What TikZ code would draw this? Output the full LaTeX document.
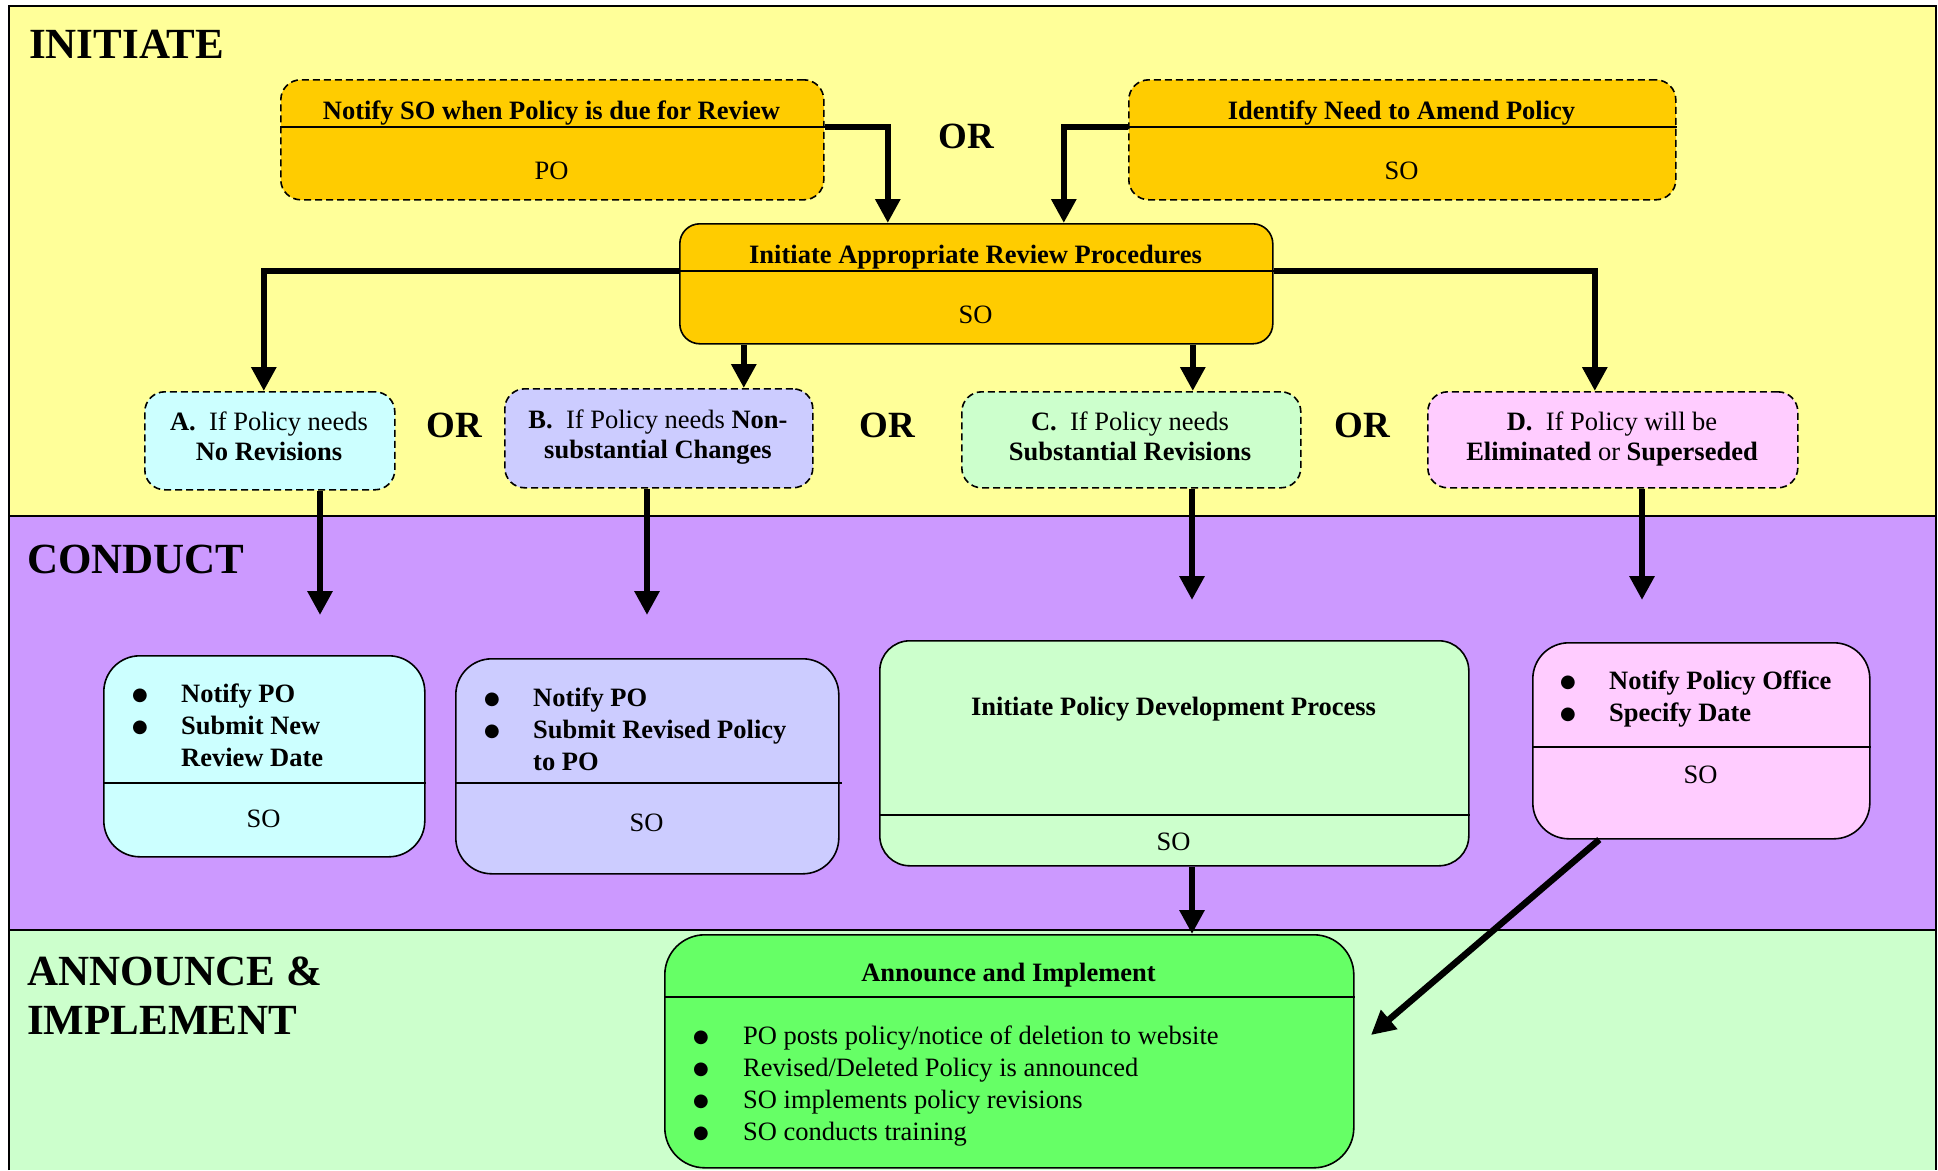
\documentclass[tikz,border=0pt]{standalone}
\usepackage{fontspec}
\setmainfont{Liberation Serif}
\newfontfamily\dejavu{DejaVu Sans}
\usetikzlibrary{arrows.meta}
\definecolor{laneY}{HTML}{FFFF99}
\definecolor{laneP}{HTML}{CC99FF}
\definecolor{laneG}{HTML}{CCFFCC}
\definecolor{boxO}{HTML}{FFCC00}
\definecolor{boxA}{HTML}{CCFFFF}
\definecolor{boxB}{HTML}{CCCCFF}
\definecolor{boxC}{HTML}{CCFFCC}
\definecolor{boxD}{HTML}{FFCCFF}
\definecolor{boxAnn}{HTML}{66FF66}
\newcommand\bodyf{\fontsize{26.5}{32.3}\selectfont}
\newcommand\headf{\fontsize{43}{49}\selectfont\bfseries}
\newcommand\orf{\fontsize{37}{42}\selectfont\bfseries}
\newcommand\bul{\raisebox{2pt}{\dejavu\fontsize{18}{0}\selectfont ●}}
\begin{document}
\begin{tikzpicture}[x=1pt,y=-1pt,
  box/.style={draw=black,line width=1.6pt,rounded corners=#1,anchor=north west,inner sep=0pt},
  box/.default=20pt,
  dbox/.style={box,dash pattern=on 7pt off 4pt},
  divl/.style={draw=black,line width=1.6pt},
  lanel/.style={draw=black,line width=2pt},
  conn/.style={line width=6.5pt,-{Triangle[length=24pt,width=24pt]}},
  txt/.style={anchor=base,font=\bodyf,inner sep=0pt},
  btxt/.style={anchor=base,font=\bodyf\bfseries,inner sep=0pt},
  lst/.style={anchor=base west,font=\bodyf\bfseries,inner sep=0pt},
  head/.style={anchor=base west,font=\headf,inner sep=0pt},
  ortxt/.style={anchor=base,font=\orf,inner sep=0pt}
]
\useasboundingbox (0,0) rectangle (1938,1170);
\fill[white] (0,0) rectangle (1938,1170);
% lanes
\fill[laneY] (9,6) rectangle (1936,516);
\fill[laneP] (9,516) rectangle (1936,930);
\fill[laneG] (9,930) rectangle (1936,1170);
\draw[lanel] (9,1170) -- (9,6) -- (1936,6) -- (1936,1170);
\draw[lanel] (9,516) -- (1936,516);
\draw[lanel] (9,930) -- (1936,930);
% headings
\node[head] (hInit) at (29,58) {INITIATE};
\node[head] (hCond) at (27,573) {CONDUCT};
\node[head] (hAnn1) at (27,985) {ANNOUNCE \&};
\node[head] (hAnn2) at (27,1034) {IMPLEMENT};
% top boxes
\node[dbox,fill=boxO,minimum width=543pt,minimum height=120pt] (notify) at (280,79) {};
\draw[divl] (notify.west |- 0,127) -- (notify.east |- 0,127);
\node[btxt] (notifyT) at (551.5,119) {Notify SO when Policy is due for Review};
\node[txt] (notifyR) at (551.5,179) {PO};
\node[dbox,fill=boxO,minimum width=547pt,minimum height=120pt] (identify) at (1128,79) {};
\draw[divl] (identify.west |- 0,127) -- (identify.east |- 0,127);
\node[btxt] (identifyT) at (1401.5,119) {Identify Need to Amend Policy};
\node[txt] (identifyR) at (1401.5,179) {SO};
\node[ortxt] (or0) at (966,148) {OR};
% initiate box
\node[box,fill=boxO,minimum width=593pt,minimum height=120pt] (init) at (679,223) {};
\draw[divl] (init.west |- 0,271) -- (init.east |- 0,271);
\node[btxt] (initT) at (975.5,263) {Initiate Appropriate Review Procedures};
\node[txt] (initR) at (975.5,323) {SO};
% decision boxes
\node[dbox,fill=boxA,minimum width=250pt,minimum height=98pt] (a) at (144,391) {};
\node[txt] (aT) at (269,430) {\begin{tabular}[t]{@{}c@{}}\textbf{A.}\ \ If Policy needs\\[-2pt] \textbf{No Revisions}\end{tabular}};
\node[dbox,fill=boxB,minimum width=308pt,minimum height=99pt] (b) at (504,388) {};
\node[txt] (bT) at (658,428) {\begin{tabular}[t]{@{}c@{}}\textbf{B.}\ \ If Policy needs \textbf{Non-}\\[-2pt] \textbf{substantial Changes}\end{tabular}};
\node[dbox,fill=boxC,minimum width=339pt,minimum height=96pt] (c) at (961,391) {};
\node[txt] (cT) at (1130,430) {\begin{tabular}[t]{@{}c@{}}\textbf{C.}\ \ If Policy needs\\[-2pt] \textbf{Substantial Revisions}\end{tabular}};
\node[dbox,fill=boxD,minimum width=370pt,minimum height=96pt] (d) at (1427,391) {};
\node[txt] (dT) at (1612,430) {\begin{tabular}[t]{@{}c@{}}\textbf{D.}\ \ If Policy will be\\[-2pt] \textbf{Eliminated} or \textbf{Superseded}\end{tabular}};
\node[ortxt] (or1) at (454,437) {OR};
\node[ortxt] (or2) at (887,437) {OR};
\node[ortxt] (or3) at (1362,437) {OR};
% conduct boxes
\node[box=36pt,fill=boxA,minimum width=321pt,minimum height=201pt] (a2) at (103,655) {};
\draw[divl] (a2.west |- 0,783) -- (a2.east |- 0,783);
\node[lst] (a2T) at (132,702) {\begin{tabular}[t]{@{}p{49pt}@{}l@{}}\bul&Notify PO\\\bul&Submit New\\&Review Date\end{tabular}};
\node[txt] (a2R) at (263.5,827) {SO};
\node[box=36pt,fill=boxB,minimum width=383pt,minimum height=215pt] (b2) at (455,658) {};
\draw[divl] (b2.west |- 0,783) -- ([xshift=2pt]b2.east |- 0,783);
\node[lst] (b2T) at (484,706) {\begin{tabular}[t]{@{}p{49pt}@{}l@{}}\bul&Notify PO\\\bul&Submit Revised Policy\\&to PO\end{tabular}};
\node[txt] (b2R) at (646.5,831) {SO};
\node[box=30pt,fill=boxC,minimum width=589pt,minimum height=225pt] (c2) at (879,640) {};
\draw[divl] (c2.west |- 0,815) -- (c2.east |- 0,815);
\node[btxt] (c2T) at (1173.5,715) {Initiate Policy Development Process};
\node[txt] (c2R) at (1173.5,850) {SO};
\node[box=36pt,fill=boxD,minimum width=337pt,minimum height=196pt] (d2) at (1532,642) {};
\draw[divl] (d2.west |- 0,747) -- (d2.east |- 0,747);
\node[lst] (d2T) at (1560,689) {\begin{tabular}[t]{@{}p{49pt}@{}l@{}}\bul&Notify Policy Office\\\bul&Specify Date\end{tabular}};
\node[txt] (d2R) at (1700.5,783) {SO};
% announce box
\node[box=40pt,fill=boxAnn,minimum width=689pt,minimum height=233pt] (ann) at (664,934) {};
\draw[divl] (ann.west |- 0,997) -- (ann.east |- 0,997);
\node[btxt] (annT) at (1008.5,981) {Announce and Implement};
\node[lst,font=\bodyf] (annL) at (693,1044) {\begin{tabular}[t]{@{}p{50pt}@{}l@{}}\bul&PO posts policy/notice of deletion to website\\\bul&Revised/Deleted Policy is announced\\\bul&SO implements policy revisions\\\bul&SO conducts training\end{tabular}};
% free ends
\coordinate (a2in) at (320,615);
\coordinate (b2in) at (647,615);
\coordinate (c2in) at (1192,600);
\coordinate (d2in) at (1642,600);
\coordinate (annin) at (1371,1035);
% connectors
\draw[conn] (notify.east |- 0,127) -| ([xshift=-88.5pt]init.north);
\draw[conn] (identify.west |- 0,127) -| ([xshift=87.5pt]init.north);
\draw[conn] (init.west |- 0,271) -| ([xshift=-6pt]a.north);
\draw[conn] ([xshift=-232.5pt]init.south) -- ([xshift=-232.5pt]init.south |- b.north);
\draw[conn] ([xshift=216.5pt]init.south) -- ([xshift=216.5pt]init.south |- c.north);
\draw[conn] (init.east |- 0,271) -| ([xshift=-18pt]d.north);
\draw[conn] (a.south -| a2in) -- (a2in);
\draw[conn] (b.south -| b2in) -- (b2in);
\draw[conn] (c.south -| c2in) -- (c2in);
\draw[conn] (d.south -| d2in) -- (d2in);
\draw[conn] (c2.south -| c2in) -- (ann.north -| c2in);
\draw[conn] ([xshift=-102pt]d2.south) -- (annin);
\end{tikzpicture}
\end{document}
